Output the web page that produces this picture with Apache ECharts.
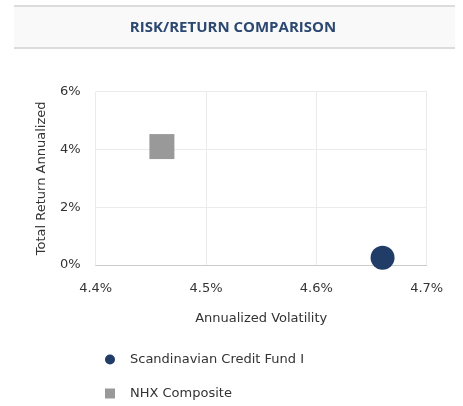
<!DOCTYPE html>
<html>
<head>
<meta charset="utf-8">
<script src="https://cdn.jsdelivr.net/npm/echarts@6/dist/echarts.min.js"></script>
<style>
html,body{margin:0;padding:0;background:#fff;}
#c{width:463px;height:406px;}
</style>
</head>
<body>
<div id="c"></div>
<script>
var seriesNames = ['Scandinavian Credit Fund I', 'NHX Composite'];
var volatility = [4.66, 4.46];
var totalReturn = [0.25, 4.10];
var seriesColors = ['#213c66', '#999999'];
var seriesSymbols = ['circle', 'rect'];
var legendIcons = ['circle', 'rect'];
var symbolSizes = [24, 25];
var xTicks = [4.4, 4.5, 4.6, 4.7];
var yTicks = [0, 2, 4, 6];

var chart = echarts.init(document.getElementById('c'), null, {renderer: 'canvas'});
var font = '"DejaVu Sans", Verdana, sans-serif';
var series = seriesNames.map(function (n, i) {
  return {
    name: n,
    type: 'scatter',
    symbol: seriesSymbols[i],
    symbolSize: symbolSizes[i],
    itemStyle: {color: seriesColors[i], opacity: 1},
    data: [[volatility[i], totalReturn[i]]],
    clip: false
  };
});
var legendTops = [348, 382];
var legends = seriesNames.map(function (n, i) {
  return {
    orient: 'vertical', left: 100, top: legendTops[i],
    itemWidth: 10, itemHeight: 10,
    data: [{name: n, icon: legendIcons[i]}],
    textStyle: {color: '#333', fontSize: 13, fontFamily: font, padding: [0, 0, 0, 10]}
  };
});
chart.setOption({
  animation: false,
  backgroundColor: '#ffffff',
  graphic: [
    {type: 'rect', shape: {x: 14, y: 5, width: 441, height: 44}, style: {fill: '#f9f9f9'}, z: -1},
    {type: 'rect', shape: {x: 14, y: 5, width: 441, height: 2}, style: {fill: '#dcdcdc'}},
    {type: 'rect', shape: {x: 14, y: 47, width: 441, height: 2}, style: {fill: '#dcdcdc'}},
    {type: 'text', x: 233, y: 28, style: {text: 'RISK/RETURN COMPARISON', fill: '#2c4870', font: 'bold 15px "Open Sans", sans-serif', textAlign: 'center', textVerticalAlign: 'middle'}}
  ],
  grid: {left: 95.7, right: 36.3, top: 91.7, bottom: 141, containLabel: false},
  xAxis: {
    type: 'value', min: xTicks[0], max: xTicks[xTicks.length - 1], interval: 0.1,
    name: 'Annualized Volatility', nameLocation: 'middle', nameGap: 47,
    nameTextStyle: {color: '#333', fontSize: 13, fontFamily: font},
    axisLine: {show: true, lineStyle: {color: '#cccccc', width: 1}},
    axisTick: {show: false},
    axisLabel: {color: '#333', fontSize: 13, fontFamily: font, margin: 17, formatter: function (v) { return v.toFixed(1) + '%'; }},
    splitLine: {show: true, lineStyle: {color: '#ebebeb', width: 1}}
  },
  yAxis: {
    type: 'value', min: yTicks[0], max: yTicks[yTicks.length - 1], interval: 2,
    name: 'Total Return Annualized', nameLocation: 'middle', nameGap: 48,
    nameTextStyle: {color: '#333', fontSize: 13, fontFamily: font},
    axisLine: {show: false},
    axisTick: {show: false},
    axisLabel: {color: '#333', fontSize: 13, fontFamily: font, margin: 15, formatter: function (v) { return v + '%'; }},
    splitLine: {show: true, lineStyle: {color: '#ebebeb', width: 1}}
  },
  legend: legends,
  series: series
});
</script>
</body>
</html>
